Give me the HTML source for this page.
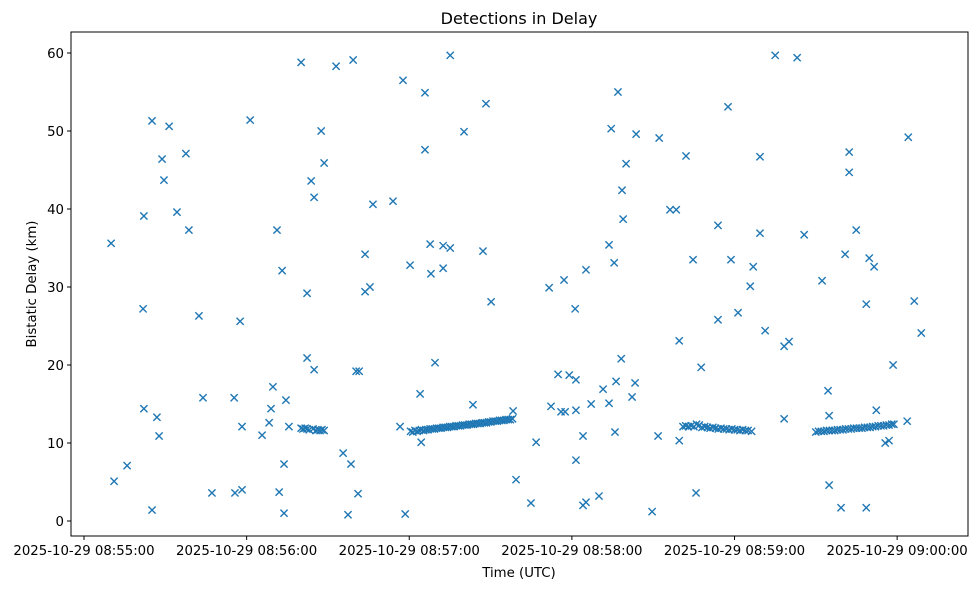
<!DOCTYPE html>
<html><head><meta charset="utf-8"><style>
body{margin:0;background:#fff;font-family:"DejaVu Sans","Liberation Sans",sans-serif}
svg text{font-family:"DejaVu Sans","Liberation Sans",sans-serif;fill:#000}
</style></head><body>
<svg id="chart" width="980" height="590" viewBox="0 0 980 590" xmlns="http://www.w3.org/2000/svg">
<rect width="980" height="590" fill="#fff"/>
<text x="519" y="24" font-size="16" text-anchor="middle">Detections in Delay</text>
<text x="519" y="577" font-size="13.3" text-anchor="middle">Time (UTC)</text>
<text transform="translate(36,284) rotate(-90)" font-size="13.3" text-anchor="middle">Bistatic Delay (km)</text>
<g id="marks"></g>
<g id="axes"></g>
<rect x="71" y="32" width="897" height="504" fill="none" stroke="#000" stroke-width="1"/>
</svg>
<script>
// seconds after 08:55:00 UTC
const scatterTimes = [10.0,11.1,15.9,21.8,22.1,22.1,25.1,25.1,26.9,27.7,28.8,29.5,31.4,34.3,37.6,38.7,42.4,43.9,47.2,55.4,55.7,57.6,58.3,58.3,61.3,65.7,68.3,69.7,69.0,71.2,72.0,73.1,73.8,73.8,74.5,75.6,80.1,82.3,82.3,83.8,84.9,84.9,87.5,88.6,93.0,95.6,97.4,98.5,99.3,100.4,101.5,101.1,103.7,103.7,105.5,106.6,114.0,116.6,117.7,118.5,120.3,124.0,124.4,125.8,125.8,127.7,128.0,129.5,132.5,132.5,135.1,135.1,140.2,143.5,147.2,148.3,150.2,158.3,159.4,166.8,164.9,171.6,172.3,174.9,176.0,177.1,177.5,179.0,181.2,181.5,181.5,181.5,184.1,184.1,185.2,185.2,187.1,190.0,191.5,193.7,193.7,194.5,195.6,195.9,196.3,197.0,198.2,198.5,198.9,200.0,202.2,203.3,203.7,209.6,211.8,212.2,216.2,218.5,219.6,219.6,222.1,224.7,225.8,227.7,233.9,233.9,237.6,238.7,241.3,245.8,246.9,249.4,249.4,251.3,255.0,258.3,258.3,260.1,263.1,265.7,272.3,274.5,274.9,274.9,279.3,280.8,282.3,282.3,284.9,288.6,288.6,289.7,291.5,292.3,295.6,297.0,298.5,304.1,303.7,306.3,308.9];
const scatterDelays = [35.6,5.1,7.1,27.2,39.1,14.4,51.3,1.4,13.3,10.9,46.4,43.7,50.6,39.6,47.1,37.3,26.3,15.8,3.6,15.8,3.6,25.6,4.0,12.1,51.4,11.0,12.6,17.2,14.4,37.3,3.7,32.1,7.3,1.0,15.5,12.1,58.8,29.2,20.9,43.6,41.5,19.4,50.0,45.9,58.3,8.7,0.8,7.3,59.1,19.2,19.2,3.5,34.2,29.4,30.0,40.6,41.0,12.1,56.5,0.9,32.8,16.3,10.1,54.9,47.6,35.5,31.7,20.3,35.3,32.4,35.0,59.7,49.9,14.9,34.6,53.5,28.1,14.1,5.3,10.1,2.3,29.9,14.7,18.8,14.0,30.9,14.0,18.7,27.2,18.1,14.2,7.8,10.9,2.0,32.2,2.4,15.0,3.2,16.9,15.1,35.4,50.3,33.1,11.4,17.9,55.0,20.8,42.4,38.7,45.8,15.9,17.7,49.6,1.2,10.9,49.1,39.9,39.9,10.3,23.1,46.8,33.5,3.6,19.7,25.8,37.9,53.1,33.5,26.7,30.1,32.6,46.7,36.9,24.4,59.7,13.1,22.4,23.0,59.4,36.7,30.8,16.7,13.5,4.6,1.7,34.2,47.3,44.7,37.3,27.8,1.7,33.7,32.6,14.2,10.0,10.3,20.0,49.2,12.8,28.2,24.1];
// dense track segments
const trackTimes = [80.1,80.8,81.6,82.3,83.1,84.5,85.6,86.3,87.1,87.8,88.6,
120.5,121.3,122.1,122.9,123.7,124.5,125.3,126.1,126.9,127.7,128.5,129.3,130.1,130.9,131.7,132.5,133.3,134.1,134.9,135.7,136.5,137.3,138.1,138.9,139.7,140.5,141.3,142.1,142.9,143.7,144.5,145.3,146.1,146.9,147.7,148.5,149.3,150.1,150.9,151.7,152.5,153.3,154.1,154.9,155.7,156.5,157.3,158.1,
221.0,222.0,223.0,224.0,225.0,226.0,227.0,228.0,229.0,230.0,231.0,232.0,233.0,234.0,235.0,236.0,237.0,238.0,239.0,240.0,241.0,242.0,243.0,244.0,245.0,246.3,
270.0,271.0,272.0,273.0,274.0,275.0,276.0,277.0,278.0,279.0,280.0,281.0,282.0,283.0,284.0,285.0,286.0,287.0,288.0,289.0,290.0,291.0,292.0,293.0,294.0,295.0,296.0,297.0,298.0,298.8];
const trackDelays = [11.9,11.8,11.9,11.8,11.7,11.8,11.6,11.7,11.6,11.7,11.6,
11.5,11.4,11.6,11.5,11.6,11.7,11.6,11.7,11.7,11.8,11.8,11.8,11.9,11.9,11.9,12.0,12.0,12.0,12.1,12.1,12.1,12.2,12.2,12.2,12.3,12.3,12.3,12.4,12.4,12.4,12.5,12.5,12.5,12.6,12.6,12.6,12.7,12.7,12.8,12.8,12.8,12.9,12.9,12.9,13.0,13.0,13.0,13.1,
12.1,12.2,12.1,12.2,12.1,12.4,12.3,12.0,12.1,12.0,11.9,12.0,11.9,11.8,11.9,11.8,11.8,11.7,11.8,11.7,11.7,11.6,11.7,11.6,11.6,11.5,
11.4,11.5,11.5,11.5,11.6,11.6,11.6,11.6,11.7,11.7,11.7,11.8,11.8,11.8,11.9,11.9,11.9,11.9,12.0,12.0,12.0,12.1,12.1,12.2,12.2,12.2,12.3,12.3,12.4,12.4];
const xTickSecs = [0,60,120,180,240,300];
const xTickLabels = ["2025-10-29 08:55:00","2025-10-29 08:56:00","2025-10-29 08:57:00","2025-10-29 08:58:00","2025-10-29 08:59:00","2025-10-29 09:00:00"];
const yTickVals = [0,10,20,30,40,50,60];

const NS="http://www.w3.org/2000/svg";
const xPos = s => 84 + s*2.7105;
const yPos = v => 521 - v*7.8;
const marks=document.getElementById('marks'), axes=document.getElementById('axes');
function mk(tag,attrs,parent){const e=document.createElementNS(NS,tag);for(const k in attrs)e.setAttribute(k,attrs[k]);parent.appendChild(e);return e;}
function drawX(s,v){
  const x=xPos(s),y=yPos(v),r=3.6;
  const p=mk('path',{d:`M${x-r},${y-r}L${x+r},${y+r}M${x-r},${y+r}L${x+r},${y-r}`,stroke:'#1f77b4','stroke-width':1.4,fill:'none'},marks);
  
  
}
scatterTimes.forEach((s,i)=>drawX(s,scatterDelays[i]));
trackTimes.forEach((s,i)=>drawX(s,trackDelays[i]));
xTickSecs.forEach((s,i)=>{
  const x=xPos(s);
  const t=mk('line',{x1:x,x2:x,y1:536,y2:540,stroke:'#000'},axes);
  
  
  const l=mk('text',{x:x,y:555,'font-size':13.3,'text-anchor':'middle'},axes);
  l.textContent=xTickLabels[i];
  
  
});
yTickVals.forEach(v=>{
  const y=yPos(v);
  const t=mk('line',{x1:67,x2:71,y1:y,y2:y,stroke:'#000'},axes);
  
  
  const l=mk('text',{x:64,y:y+5,'font-size':13.3,'text-anchor':'end'},axes);
  l.textContent=v;
  
  
});
</script>
</body></html>
